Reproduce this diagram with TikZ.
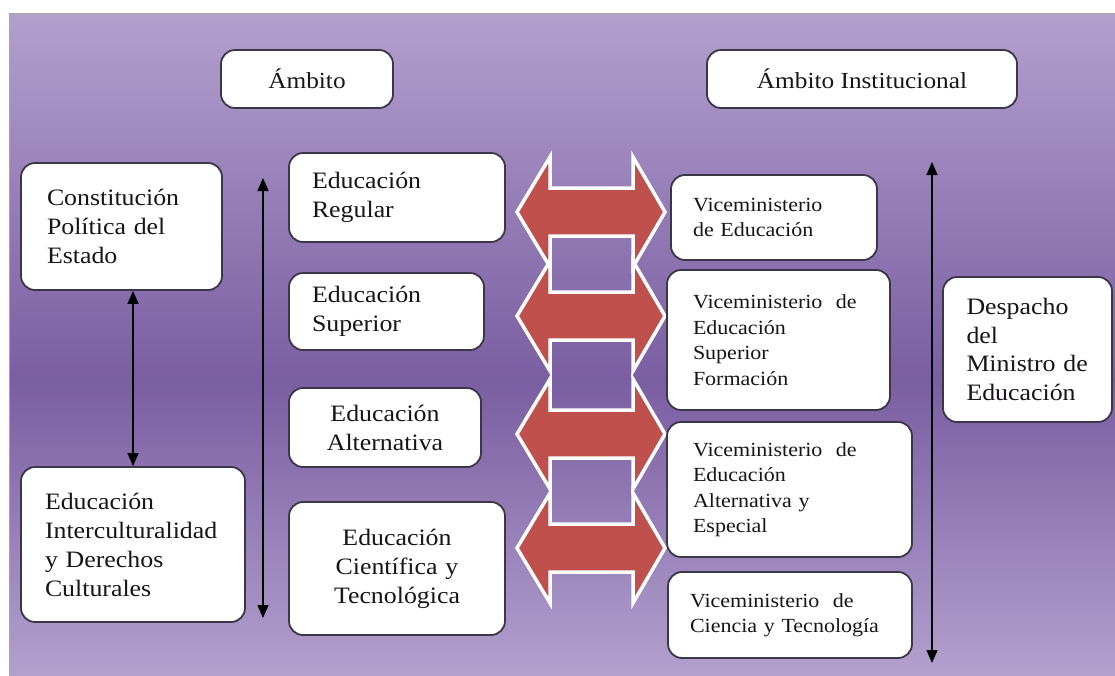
\documentclass[tikz,border=0pt]{standalone}
\usepackage{fontspec}
\setmainfont{Liberation Serif}[FakeStretch=1.1]
\usetikzlibrary{arrows.meta}
\definecolor{bgl}{RGB}{178,160,205}
\definecolor{bgd}{RGB}{122,94,162}
\definecolor{boxline}{RGB}{60,54,72}
\definecolor{arrred}{RGB}{192,80,77}
\definecolor{txt}{RGB}{25,20,25}
\newcommand\dblarr[1]{%
  \draw[blockarr] (517,#1) -- (550,#1-55) -- (550,#1-24) -- (633,#1-24) -- (633,#1-55)
    -- (665,#1) -- (633,#1+55) -- (633,#1+24) -- (550,#1+24) -- (550,#1+55) -- cycle;}
\begin{document}
\begin{tikzpicture}[x=1pt,y=-1pt,
  bx/.style={draw=boxline, line width=1.8pt, fill=white, rounded corners=14pt,
    inner ysep=0pt, text=txt, font=\fontsize{23.5}{29}\selectfont, align=left},
  vm/.style={font=\fontsize{20}{25.5}\selectfont},
  link/.style={line width=1.4pt, {Triangle[length=13pt,width=11pt]}-{Triangle[length=13pt,width=11pt]}},
  blockarr/.style={fill=arrred, draw=white, line width=3.5pt, line join=miter}]
\useasboundingbox (0,0) rectangle (1115,675);
\fill[white] (0,0) rectangle (1115,675);
\shade[top color=bgl, bottom color=bgd] (9,13) rectangle (1115,380);
\shade[top color=bgd, bottom color=bgl] (9,379.5) rectangle (1115,675);
\draw[gray!70, line width=1pt] (9,675) -- (9,13) -- (1115,13);

% block double arrows
\dblarr{212}
\dblarr{316}
\dblarr{434}
\dblarr{548}

% header boxes
\node[bx, align=center, minimum width=172pt, minimum height=58pt, font=\fontsize{23}{28}\selectfont] (amb) at (307,79) {Ámbito};
\node[bx, align=center, minimum width=310pt, minimum height=58pt, font=\fontsize{23}{28}\selectfont] (ambi) at (862,79) {Ámbito Institucional};

% left column
\node[bx, minimum width=201pt, minimum height=127pt, inner xsep=26pt, text width=149pt] (cpe) at (121.5,226.5) {Constitución\\Política del\\Estado};
\node[bx, minimum width=224pt, minimum height=155pt, inner xsep=24pt, text width=176pt] (eid) at (133,544.5) {Educación\\Interculturalidad\\y Derechos\\Culturales};

% middle column
\node[bx, minimum width=216pt, minimum height=89pt, inner xsep=23pt, text width=170pt] (ereg) at (397,197.5) {Educación\\Regular};
\node[bx, minimum width=195pt, minimum height=77pt, inner xsep=23pt, text width=149pt] (esup) at (386.5,311.5) {Educación\\Superior};
\node[bx, align=center, minimum width=192pt, minimum height=79pt, inner xsep=16pt, text width=160pt] (ealt) at (385,427.5) {Educación\\Alternativa};
\node[bx, align=center, minimum width=216pt, minimum height=133pt, inner xsep=18pt, text width=180pt] (ecyt) at (397,568.5) {Educación\\Científica y\\Tecnológica};

% right column
\node[bx, vm, minimum width=206pt, minimum height=85pt, inner xsep=22pt, text width=162pt] (v1) at (774,217.5) {Viceministerio\\de Educación};
\node[bx, vm, minimum width=223pt, minimum height=140pt, inner xsep=26pt, text width=171pt] (v2) at (778.5,340) {Viceministerio~ de\\Educación\\Superior\\Formación};
\node[bx, vm, minimum width=245pt, minimum height=135pt, inner xsep=26pt, text width=193pt] (v3) at (789.5,489.5) {Viceministerio~ de\\Educación\\Alternativa y\\Especial};
\node[bx, vm, minimum width=244pt, minimum height=86pt, inner xsep=22pt, text width=200pt] (v4) at (790,615) {Viceministerio~ de\\Ciencia y Tecnología};

\node[bx, minimum width=169pt, minimum height=145pt, inner xsep=23.5pt, text width=122pt, font=\fontsize{23.5}{28.5}\selectfont] (desp) at (1027.5,349.5) {Despacho\\del\\Ministro de\\Educación};

% connectors
\draw[link] (eid.north |- cpe.south) -- (eid.north);
\coordinate (l1) at (263,178);
\coordinate (l2) at (263,618);
\draw[link] (l1) -- (l2);
\coordinate (r1) at (932,162);
\coordinate (r2) at (932,663);
\draw[link] (r1) -- (r2);
\end{tikzpicture}
\end{document}
